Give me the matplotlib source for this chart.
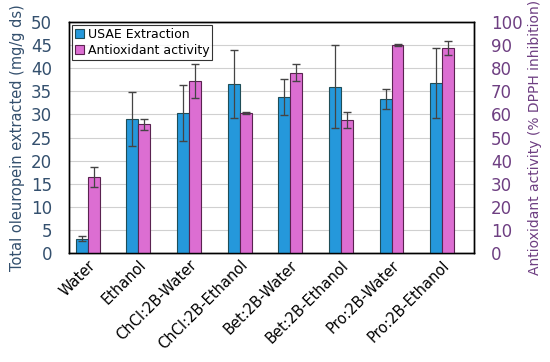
import matplotlib.pyplot as plt
import numpy as np

solvents = ['Water', 'Ethanol', 'ChCl:2B-Water', 'ChCl:2B-Ethanol',
            'Bet:2B-Water', 'Bet:2B-Ethanol', 'Pro:2B-Water', 'Pro:2B-Ethanol']
usae = [3.2, 29.0, 30.3, 36.6, 33.8, 36.0, 33.3, 36.8]        # mg/g ds
usae_err = [0.6, 5.8, 6.0, 7.3, 3.9, 9.0, 2.2, 7.5]
antiox = [33.0, 55.8, 74.5, 60.6, 78.0, 57.6, 90.0, 88.8]     # % DPPH inhibition
antiox_err = [4.5, 2.4, 7.4, 0.3, 3.8, 3.4, 0.5, 3.0]

blue = '#2598db'
pink = '#dc6ed2'
left_col = '#34506e'
right_col = '#6e3f82'

fig, ax = plt.subplots(figsize=(5.5, 3.62), dpi=100)
fig.subplots_adjust(left=0.125, right=0.862, top=0.94, bottom=0.30)
ax2 = ax.twinx()

x = np.arange(len(solvents))
w = 0.235
ax.bar(x - w / 2, usae, w, color=blue, edgecolor='#1f4d57', linewidth=0.8,
       yerr=usae_err, error_kw=dict(ecolor='#444444', elinewidth=0.9, capsize=3),
       label='USAE Extraction', zorder=3)
# antioxidant bars go on the left axis at half scale so they share its grid
ax.bar(x + w / 2, np.array(antiox) / 2, w, color=pink, edgecolor='#5a2350', linewidth=0.8,
       yerr=np.array(antiox_err) / 2,
       error_kw=dict(ecolor='#444444', elinewidth=0.9, capsize=3),
       label='Antioxidant activity', zorder=3)

ax.set_ylim(0, 50)
ax.set_yticks(range(0, 51, 5))
ax.set_xlim(-0.375, len(solvents) - 0.37)
ax.grid(axis='y', color='#d0d0d0', linewidth=0.8, zorder=0)
ax.set_axisbelow(True)
ax.tick_params(axis='y', length=0, pad=12, labelsize=12, labelcolor=left_col)
ax.tick_params(axis='x', length=0, labelsize=10.5, pad=3)
ax.set_xticks(x)
ax.set_xticklabels(solvents, rotation=45, ha='right', rotation_mode='anchor')
ax.set_ylabel('Total oleuropein extracted (mg/g ds)', color=left_col, fontsize=10.5)

ax2.set_ylim(0, 100)
ax2.set_yticks(range(0, 101, 10))
ax2.tick_params(axis='y', length=0, pad=12, labelsize=12, labelcolor=right_col)
ax2.set_ylabel('Antioxidant activity (% DPPH inhibition)', color=right_col, fontsize=10)

for a in (ax, ax2):
    for s in a.spines.values():
        s.set_color('black')
        s.set_linewidth(1.0)

leg = ax.legend(loc='upper left', fontsize=9, frameon=True, fancybox=False,
                edgecolor='black', handlelength=0.7, handleheight=0.7,
                handletextpad=0.3, borderpad=0.25, labelspacing=0.25,
                borderaxespad=0.25)
leg.get_frame().set_linewidth(0.8)
leg.set_zorder(5)

fig.savefig('out.png', dpi=100)
